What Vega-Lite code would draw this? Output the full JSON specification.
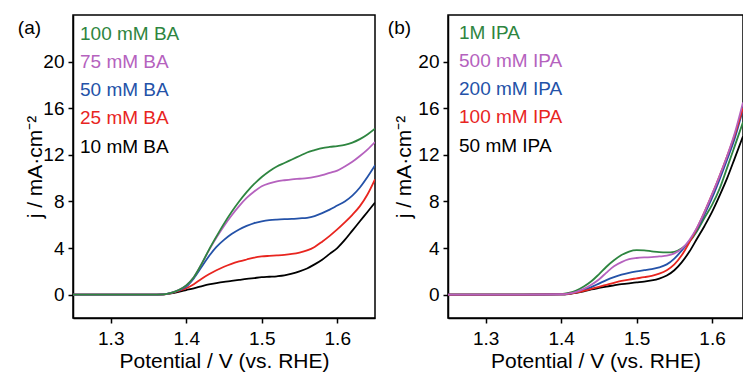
{
  "$schema": "https://vega.github.io/schema/vega-lite/v6.json",
  "padding": {"left": 17, "top": 14, "right": 0, "bottom": 0},
  "background": "white",
  "config": {
    "font": "Liberation Sans",
    "view": {"stroke": "#000000", "strokeWidth": 1.5},
    "axis": {
      "grid": false,
      "domainColor": "#000000",
      "domainWidth": 1.5,
      "tickColor": "#000000",
      "tickWidth": 1.5,
      "tickSize": 5,
      "labelFontSize": 19,
      "labelColor": "#000000",
      "labelPadding": 4,
      "titleFontSize": 21,
      "titleFontWeight": "normal",
      "titleColor": "#000000"
    },
    "axisX": {"labelPadding": 6},
    "legend": {
      "orient": "none",
      "padding": 0,
      "title": null,
      "symbolSize": 0,
      "symbolOpacity": 0,
      "symbolStrokeWidth": 0,
      "labelOffset": 0,
      "labelFontSize": 19,
      "rowPadding": 8.3
    },
    "title": {"fontSize": 19, "fontWeight": "normal", "color": "#000000", "anchor": "start", "frame": "bounds", "offset": 0}
  },
  "bounds": "flush",
  "spacing": 73,
  "datasets": {
    "ba": [
      {"c":"10 mM BA","V":1.25,"j":0},{"c":"10 mM BA","V":1.30,"j":0},{"c":"10 mM BA","V":1.35,"j":0.01},{"c":"10 mM BA","V":1.37,"j":0.03},
      {"c":"10 mM BA","V":1.38,"j":0.12},{"c":"10 mM BA","V":1.39,"j":0.25},{"c":"10 mM BA","V":1.40,"j":0.4},{"c":"10 mM BA","V":1.41,"j":0.55},{"c":"10 mM BA","V":1.42,"j":0.72},{"c":"10 mM BA","V":1.43,"j":0.88},{"c":"10 mM BA","V":1.44,"j":1.0},{"c":"10 mM BA","V":1.45,"j":1.1},{"c":"10 mM BA","V":1.46,"j":1.18},{"c":"10 mM BA","V":1.47,"j":1.27},{"c":"10 mM BA","V":1.48,"j":1.36},{"c":"10 mM BA","V":1.49,"j":1.43},{"c":"10 mM BA","V":1.50,"j":1.5},{"c":"10 mM BA","V":1.51,"j":1.54},{"c":"10 mM BA","V":1.52,"j":1.58},{"c":"10 mM BA","V":1.53,"j":1.65},{"c":"10 mM BA","V":1.54,"j":1.8},{"c":"10 mM BA","V":1.55,"j":2.0},{"c":"10 mM BA","V":1.56,"j":2.25},{"c":"10 mM BA","V":1.57,"j":2.6},{"c":"10 mM BA","V":1.58,"j":3.0},{"c":"10 mM BA","V":1.59,"j":3.5},{"c":"10 mM BA","V":1.60,"j":4.0},{"c":"10 mM BA","V":1.61,"j":4.7},{"c":"10 mM BA","V":1.62,"j":5.5},{"c":"10 mM BA","V":1.63,"j":6.3},{"c":"10 mM BA","V":1.64,"j":7.1},{"c":"10 mM BA","V":1.65,"j":7.9},
      {"c":"25 mM BA","V":1.25,"j":0},{"c":"25 mM BA","V":1.30,"j":0},{"c":"25 mM BA","V":1.35,"j":0.01},{"c":"25 mM BA","V":1.37,"j":0.03},
      {"c":"25 mM BA","V":1.38,"j":0.14},{"c":"25 mM BA","V":1.39,"j":0.32},{"c":"25 mM BA","V":1.40,"j":0.55},{"c":"25 mM BA","V":1.41,"j":0.9},{"c":"25 mM BA","V":1.42,"j":1.35},{"c":"25 mM BA","V":1.43,"j":1.75},{"c":"25 mM BA","V":1.44,"j":2.1},{"c":"25 mM BA","V":1.45,"j":2.4},{"c":"25 mM BA","V":1.46,"j":2.65},{"c":"25 mM BA","V":1.47,"j":2.85},{"c":"25 mM BA","V":1.48,"j":3.02},{"c":"25 mM BA","V":1.49,"j":3.18},{"c":"25 mM BA","V":1.50,"j":3.28},{"c":"25 mM BA","V":1.51,"j":3.33},{"c":"25 mM BA","V":1.52,"j":3.37},{"c":"25 mM BA","V":1.53,"j":3.42},{"c":"25 mM BA","V":1.54,"j":3.5},{"c":"25 mM BA","V":1.55,"j":3.62},{"c":"25 mM BA","V":1.56,"j":3.8},{"c":"25 mM BA","V":1.57,"j":4.1},{"c":"25 mM BA","V":1.58,"j":4.55},{"c":"25 mM BA","V":1.59,"j":5.05},{"c":"25 mM BA","V":1.60,"j":5.6},{"c":"25 mM BA","V":1.61,"j":6.2},{"c":"25 mM BA","V":1.62,"j":6.85},{"c":"25 mM BA","V":1.63,"j":7.6},{"c":"25 mM BA","V":1.64,"j":8.6},{"c":"25 mM BA","V":1.65,"j":9.9},
      {"c":"50 mM BA","V":1.25,"j":0},{"c":"50 mM BA","V":1.30,"j":0},{"c":"50 mM BA","V":1.35,"j":0.01},{"c":"50 mM BA","V":1.37,"j":0.03},
      {"c":"50 mM BA","V":1.38,"j":0.15},{"c":"50 mM BA","V":1.39,"j":0.38},{"c":"50 mM BA","V":1.40,"j":0.7},{"c":"50 mM BA","V":1.41,"j":1.4},{"c":"50 mM BA","V":1.42,"j":2.35},{"c":"50 mM BA","V":1.43,"j":3.3},{"c":"50 mM BA","V":1.44,"j":4.1},{"c":"50 mM BA","V":1.45,"j":4.7},{"c":"50 mM BA","V":1.46,"j":5.2},{"c":"50 mM BA","V":1.47,"j":5.6},{"c":"50 mM BA","V":1.48,"j":5.9},{"c":"50 mM BA","V":1.49,"j":6.15},{"c":"50 mM BA","V":1.50,"j":6.3},{"c":"50 mM BA","V":1.51,"j":6.4},{"c":"50 mM BA","V":1.52,"j":6.45},{"c":"50 mM BA","V":1.53,"j":6.48},{"c":"50 mM BA","V":1.54,"j":6.5},{"c":"50 mM BA","V":1.55,"j":6.55},{"c":"50 mM BA","V":1.56,"j":6.6},{"c":"50 mM BA","V":1.57,"j":6.75},{"c":"50 mM BA","V":1.58,"j":7.0},{"c":"50 mM BA","V":1.59,"j":7.3},{"c":"50 mM BA","V":1.60,"j":7.65},{"c":"50 mM BA","V":1.61,"j":8.0},{"c":"50 mM BA","V":1.62,"j":8.5},{"c":"50 mM BA","V":1.63,"j":9.2},{"c":"50 mM BA","V":1.64,"j":10.1},{"c":"50 mM BA","V":1.65,"j":11.1},
      {"c":"75 mM BA","V":1.25,"j":0},{"c":"75 mM BA","V":1.30,"j":0},{"c":"75 mM BA","V":1.35,"j":0.01},{"c":"75 mM BA","V":1.37,"j":0.03},
      {"c":"75 mM BA","V":1.38,"j":0.15},{"c":"75 mM BA","V":1.39,"j":0.4},{"c":"75 mM BA","V":1.40,"j":0.8},{"c":"75 mM BA","V":1.41,"j":1.5},{"c":"75 mM BA","V":1.42,"j":2.6},{"c":"75 mM BA","V":1.43,"j":3.8},{"c":"75 mM BA","V":1.44,"j":4.9},{"c":"75 mM BA","V":1.45,"j":5.9},{"c":"75 mM BA","V":1.46,"j":6.8},{"c":"75 mM BA","V":1.47,"j":7.6},{"c":"75 mM BA","V":1.48,"j":8.3},{"c":"75 mM BA","V":1.49,"j":8.85},{"c":"75 mM BA","V":1.50,"j":9.3},{"c":"75 mM BA","V":1.51,"j":9.55},{"c":"75 mM BA","V":1.52,"j":9.72},{"c":"75 mM BA","V":1.53,"j":9.82},{"c":"75 mM BA","V":1.54,"j":9.9},{"c":"75 mM BA","V":1.55,"j":9.95},{"c":"75 mM BA","V":1.56,"j":10.0},{"c":"75 mM BA","V":1.57,"j":10.1},{"c":"75 mM BA","V":1.58,"j":10.25},{"c":"75 mM BA","V":1.59,"j":10.45},{"c":"75 mM BA","V":1.60,"j":10.65},{"c":"75 mM BA","V":1.61,"j":11.0},{"c":"75 mM BA","V":1.62,"j":11.4},{"c":"75 mM BA","V":1.63,"j":11.9},{"c":"75 mM BA","V":1.64,"j":12.45},{"c":"75 mM BA","V":1.65,"j":13.1},
      {"c":"100 mM BA","V":1.25,"j":0},{"c":"100 mM BA","V":1.30,"j":0},{"c":"100 mM BA","V":1.35,"j":0.01},{"c":"100 mM BA","V":1.37,"j":0.03},
      {"c":"100 mM BA","V":1.38,"j":0.15},{"c":"100 mM BA","V":1.39,"j":0.4},{"c":"100 mM BA","V":1.40,"j":0.8},{"c":"100 mM BA","V":1.41,"j":1.5},{"c":"100 mM BA","V":1.42,"j":2.6},{"c":"100 mM BA","V":1.43,"j":3.85},{"c":"100 mM BA","V":1.44,"j":5.0},{"c":"100 mM BA","V":1.45,"j":6.1},{"c":"100 mM BA","V":1.46,"j":7.1},{"c":"100 mM BA","V":1.47,"j":8.0},{"c":"100 mM BA","V":1.48,"j":8.8},{"c":"100 mM BA","V":1.49,"j":9.5},{"c":"100 mM BA","V":1.50,"j":10.1},{"c":"100 mM BA","V":1.51,"j":10.6},{"c":"100 mM BA","V":1.52,"j":11.0},{"c":"100 mM BA","V":1.53,"j":11.3},{"c":"100 mM BA","V":1.54,"j":11.6},{"c":"100 mM BA","V":1.55,"j":11.9},{"c":"100 mM BA","V":1.56,"j":12.2},{"c":"100 mM BA","V":1.57,"j":12.4},{"c":"100 mM BA","V":1.58,"j":12.58},{"c":"100 mM BA","V":1.59,"j":12.68},{"c":"100 mM BA","V":1.60,"j":12.75},{"c":"100 mM BA","V":1.61,"j":12.85},{"c":"100 mM BA","V":1.62,"j":13.05},{"c":"100 mM BA","V":1.63,"j":13.35},{"c":"100 mM BA","V":1.64,"j":13.75},{"c":"100 mM BA","V":1.65,"j":14.25}
    ],
    "ipa": [
      {"c":"50 mM IPA","V":1.25,"j":0},{"c":"50 mM IPA","V":1.30,"j":0},{"c":"50 mM IPA","V":1.35,"j":0},{"c":"50 mM IPA","V":1.40,"j":0.02},
      {"c":"50 mM IPA","V":1.41,"j":0.06},{"c":"50 mM IPA","V":1.42,"j":0.15},{"c":"50 mM IPA","V":1.43,"j":0.28},{"c":"50 mM IPA","V":1.44,"j":0.45},{"c":"50 mM IPA","V":1.45,"j":0.58},{"c":"50 mM IPA","V":1.46,"j":0.7},{"c":"50 mM IPA","V":1.47,"j":0.8},{"c":"50 mM IPA","V":1.48,"j":0.9},{"c":"50 mM IPA","V":1.49,"j":0.98},{"c":"50 mM IPA","V":1.50,"j":1.05},{"c":"50 mM IPA","V":1.51,"j":1.12},{"c":"50 mM IPA","V":1.52,"j":1.22},{"c":"50 mM IPA","V":1.53,"j":1.38},{"c":"50 mM IPA","V":1.54,"j":1.65},{"c":"50 mM IPA","V":1.55,"j":2.1},{"c":"50 mM IPA","V":1.56,"j":2.8},{"c":"50 mM IPA","V":1.57,"j":3.7},{"c":"50 mM IPA","V":1.58,"j":4.8},{"c":"50 mM IPA","V":1.59,"j":5.9},{"c":"50 mM IPA","V":1.60,"j":7.1},{"c":"50 mM IPA","V":1.61,"j":8.5},{"c":"50 mM IPA","V":1.62,"j":10.0},{"c":"50 mM IPA","V":1.63,"j":11.7},{"c":"50 mM IPA","V":1.641,"j":13.6},
      {"c":"1M IPA","V":1.25,"j":0},{"c":"1M IPA","V":1.30,"j":0},{"c":"1M IPA","V":1.35,"j":0},{"c":"1M IPA","V":1.40,"j":0.05},
      {"c":"1M IPA","V":1.41,"j":0.15},{"c":"1M IPA","V":1.42,"j":0.35},{"c":"1M IPA","V":1.43,"j":0.7},{"c":"1M IPA","V":1.44,"j":1.15},{"c":"1M IPA","V":1.45,"j":1.75},{"c":"1M IPA","V":1.46,"j":2.4},{"c":"1M IPA","V":1.47,"j":2.95},{"c":"1M IPA","V":1.48,"j":3.4},{"c":"1M IPA","V":1.49,"j":3.7},{"c":"1M IPA","V":1.50,"j":3.82},{"c":"1M IPA","V":1.51,"j":3.8},{"c":"1M IPA","V":1.52,"j":3.72},{"c":"1M IPA","V":1.53,"j":3.65},{"c":"1M IPA","V":1.54,"j":3.63},{"c":"1M IPA","V":1.55,"j":3.68},{"c":"1M IPA","V":1.56,"j":3.98},{"c":"1M IPA","V":1.57,"j":4.55},{"c":"1M IPA","V":1.58,"j":5.45},{"c":"1M IPA","V":1.59,"j":6.6},{"c":"1M IPA","V":1.60,"j":7.7},{"c":"1M IPA","V":1.61,"j":9.1},{"c":"1M IPA","V":1.62,"j":10.9},{"c":"1M IPA","V":1.63,"j":12.75},{"c":"1M IPA","V":1.641,"j":14.8},
      {"c":"200 mM IPA","V":1.25,"j":0},{"c":"200 mM IPA","V":1.30,"j":0},{"c":"200 mM IPA","V":1.35,"j":0},{"c":"200 mM IPA","V":1.40,"j":0.03},
      {"c":"200 mM IPA","V":1.41,"j":0.08},{"c":"200 mM IPA","V":1.42,"j":0.2},{"c":"200 mM IPA","V":1.43,"j":0.4},{"c":"200 mM IPA","V":1.44,"j":0.65},{"c":"200 mM IPA","V":1.45,"j":0.95},{"c":"200 mM IPA","V":1.46,"j":1.25},{"c":"200 mM IPA","V":1.47,"j":1.5},{"c":"200 mM IPA","V":1.48,"j":1.72},{"c":"200 mM IPA","V":1.49,"j":1.88},{"c":"200 mM IPA","V":1.50,"j":2.0},{"c":"200 mM IPA","V":1.51,"j":2.1},{"c":"200 mM IPA","V":1.52,"j":2.2},{"c":"200 mM IPA","V":1.53,"j":2.35},{"c":"200 mM IPA","V":1.54,"j":2.6},{"c":"200 mM IPA","V":1.55,"j":3.1},{"c":"200 mM IPA","V":1.56,"j":3.8},{"c":"200 mM IPA","V":1.57,"j":4.6},{"c":"200 mM IPA","V":1.58,"j":5.6},{"c":"200 mM IPA","V":1.59,"j":6.9},{"c":"200 mM IPA","V":1.60,"j":8.3},{"c":"200 mM IPA","V":1.61,"j":9.9},{"c":"200 mM IPA","V":1.62,"j":11.6},{"c":"200 mM IPA","V":1.63,"j":13.4},{"c":"200 mM IPA","V":1.641,"j":15.9},
      {"c":"100 mM IPA","V":1.25,"j":0},{"c":"100 mM IPA","V":1.30,"j":0},{"c":"100 mM IPA","V":1.35,"j":0},{"c":"100 mM IPA","V":1.40,"j":0.03},
      {"c":"100 mM IPA","V":1.41,"j":0.08},{"c":"100 mM IPA","V":1.42,"j":0.18},{"c":"100 mM IPA","V":1.43,"j":0.32},{"c":"100 mM IPA","V":1.44,"j":0.5},{"c":"100 mM IPA","V":1.45,"j":0.68},{"c":"100 mM IPA","V":1.46,"j":0.85},{"c":"100 mM IPA","V":1.47,"j":1.02},{"c":"100 mM IPA","V":1.48,"j":1.18},{"c":"100 mM IPA","V":1.49,"j":1.3},{"c":"100 mM IPA","V":1.50,"j":1.4},{"c":"100 mM IPA","V":1.51,"j":1.5},{"c":"100 mM IPA","V":1.52,"j":1.62},{"c":"100 mM IPA","V":1.53,"j":1.8},{"c":"100 mM IPA","V":1.54,"j":2.1},{"c":"100 mM IPA","V":1.55,"j":2.6},{"c":"100 mM IPA","V":1.56,"j":3.4},{"c":"100 mM IPA","V":1.57,"j":4.5},{"c":"100 mM IPA","V":1.58,"j":5.7},{"c":"100 mM IPA","V":1.59,"j":7.1},{"c":"100 mM IPA","V":1.60,"j":8.6},{"c":"100 mM IPA","V":1.61,"j":10.2},{"c":"100 mM IPA","V":1.62,"j":11.9},{"c":"100 mM IPA","V":1.63,"j":13.7},{"c":"100 mM IPA","V":1.641,"j":16.0},
      {"c":"500 mM IPA","V":1.25,"j":0},{"c":"500 mM IPA","V":1.30,"j":0},{"c":"500 mM IPA","V":1.35,"j":0},{"c":"500 mM IPA","V":1.40,"j":0.04},
      {"c":"500 mM IPA","V":1.41,"j":0.1},{"c":"500 mM IPA","V":1.42,"j":0.25},{"c":"500 mM IPA","V":1.43,"j":0.5},{"c":"500 mM IPA","V":1.44,"j":0.85},{"c":"500 mM IPA","V":1.45,"j":1.3},{"c":"500 mM IPA","V":1.46,"j":1.9},{"c":"500 mM IPA","V":1.47,"j":2.45},{"c":"500 mM IPA","V":1.48,"j":2.8},{"c":"500 mM IPA","V":1.49,"j":3.05},{"c":"500 mM IPA","V":1.50,"j":3.15},{"c":"500 mM IPA","V":1.51,"j":3.2},{"c":"500 mM IPA","V":1.52,"j":3.22},{"c":"500 mM IPA","V":1.53,"j":3.28},{"c":"500 mM IPA","V":1.54,"j":3.35},{"c":"500 mM IPA","V":1.55,"j":3.55},{"c":"500 mM IPA","V":1.56,"j":3.95},{"c":"500 mM IPA","V":1.57,"j":4.7},{"c":"500 mM IPA","V":1.58,"j":5.75},{"c":"500 mM IPA","V":1.59,"j":7.1},{"c":"500 mM IPA","V":1.60,"j":8.6},{"c":"500 mM IPA","V":1.61,"j":10.2},{"c":"500 mM IPA","V":1.62,"j":11.9},{"c":"500 mM IPA","V":1.63,"j":13.85},{"c":"500 mM IPA","V":1.641,"j":16.5}
    ]
  },
  "hconcat": [
    {
      "width": 302,
      "height": 303,
      "title": {"text": "(a)", "dx": -7, "dy": 27},
      "data": {"name": "ba"},
      "mark": {"type": "line", "strokeWidth": 1.8, "interpolate": "monotone", "clip": true},
      "encoding": {
        "x": {"field": "V", "type": "quantitative", "scale": {"domain": [1.25, 1.65], "nice": false, "zero": false},
              "axis": {"values": [1.3, 1.4, 1.5, 1.6], "format": ".1f", "title": "Potential / V (vs. RHE)", "titlePadding": 2}},
        "y": {"field": "j", "type": "quantitative", "scale": {"domain": [-2, 24], "nice": false, "zero": false},
              "axis": {"values": [0, 4, 8, 12, 16, 20], "title": "j / mA·cm⁻²", "titlePadding": -3}},
        "color": {"field": "c", "type": "nominal",
                  "scale": {"domain": ["100 mM BA", "75 mM BA", "50 mM BA", "25 mM BA", "10 mM BA"], "range": ["#2e8540", "#b562be", "#2452a8", "#e8251f", "#000000"]},
                  "legend": {"legendX": -12, "legendY": 9, "labelColor": {"expr": "['#2e8540','#b562be','#2452a8','#e8251f','#000000'][indexof(['100 mM BA','75 mM BA','50 mM BA','25 mM BA','10 mM BA'], datum.value)]"}}},
        "order": {"field": "V", "type": "quantitative"}
      }
    },
    {
      "width": 295,
      "height": 303,
      "title": {"text": "(b)", "dx": -6, "dy": 27},
      "data": {"name": "ipa"},
      "mark": {"type": "line", "strokeWidth": 1.8, "interpolate": "monotone", "clip": true},
      "encoding": {
        "x": {"field": "V", "type": "quantitative", "scale": {"domain": [1.25, 1.641], "nice": false, "zero": false},
              "axis": {"values": [1.3, 1.4, 1.5, 1.6], "format": ".1f", "title": "Potential / V (vs. RHE)", "titlePadding": 2}},
        "y": {"field": "j", "type": "quantitative", "scale": {"domain": [-2, 24], "nice": false, "zero": false},
              "axis": {"values": [0, 4, 8, 12, 16, 20], "title": "j / mA·cm⁻²", "titlePadding": 3}},
        "color": {"field": "c", "type": "nominal",
                  "scale": {"domain": ["1M IPA", "500 mM IPA", "200 mM IPA", "100 mM IPA", "50 mM IPA"], "range": ["#2e8540", "#b562be", "#2452a8", "#e8251f", "#000000"]},
                  "legend": {"legendX": -8, "legendY": 8, "labelColor": {"expr": "['#2e8540','#b562be','#2452a8','#e8251f','#000000'][indexof(['1M IPA','500 mM IPA','200 mM IPA','100 mM IPA','50 mM IPA'], datum.value)]"}}},
        "order": {"field": "V", "type": "quantitative"}
      }
    }
  ],
  "resolve": {"scale": {"color": "independent", "x": "independent", "y": "independent"}, "legend": {"color": "independent"}}
}
